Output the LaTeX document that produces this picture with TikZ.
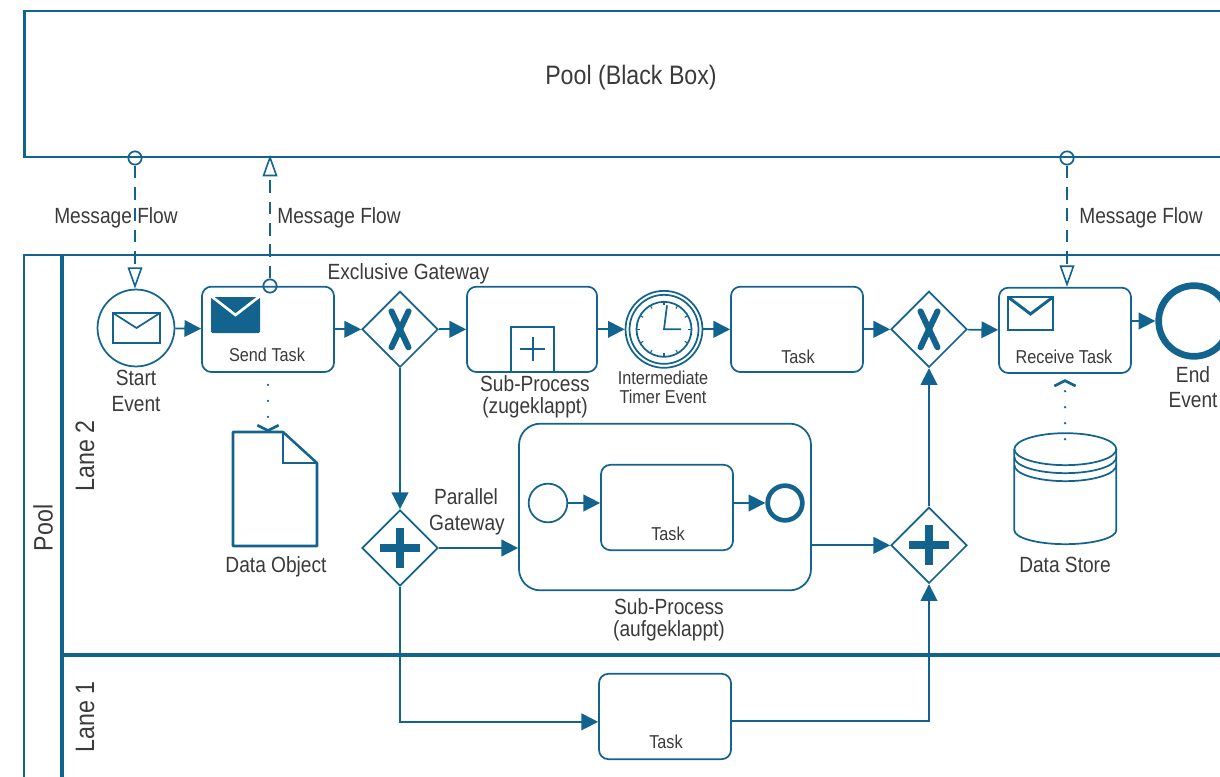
\documentclass[tikz,border=0pt]{standalone}
\usepackage{fontspec}
\setmainfont[FakeStretch=0.87]{Liberation Sans}
\usetikzlibrary{arrows.meta,shapes.geometric}

\definecolor{bpmnblue}{HTML}{13638F}
\definecolor{bpmntext}{HTML}{3A3A3A}

\begin{document}
\begin{tikzpicture}[x=.75pt,y=-.75pt]
      \tikzset{
        node distance=99pt,
        line width=1.3pt,
        bpmnline/.style={draw=bpmnblue,line width=1.3pt},
        poolline/.style={draw=bpmnblue,line width=2pt},
        lbl/.style={text=bpmntext,font=\fontsize{16.5}{16.5}\selectfont,inner sep=0pt},
        biglbl/.style={text=bpmntext,font=\fontsize{20}{20}\selectfont,inner sep=0pt},
        smalllbl/.style={text=bpmntext,font=\fontsize{14}{14}\selectfont,inner sep=0pt},
        task/.style={bpmnline,rectangle,rounded corners=7pt,minimum width=99pt,minimum height=64pt,inner sep=0pt},
        gateway/.style={bpmnline,diamond,aspect=1,minimum width=57pt,minimum height=57pt,inner sep=0pt},
        eventnode/.style={bpmnline,circle,inner sep=0pt,minimum size=57.7pt},
        msgdot/.style={bpmnline,circle,inner sep=0pt,minimum size=10pt},
        databox/.style={inner sep=0pt,outer sep=0pt},
        flow/.style={bpmnblue,line width=1.3pt,-{Triangle[length=12.5pt,width=12.5pt]}},
        msgflow/.style={bpmnblue,line width=1.3pt,dash pattern=on 9.5pt off 6.5pt,-{Triangle[open,fill=white,length=16pt,width=11pt,line width=1.2pt]}},
        assoc/.style={bpmnblue,line width=2pt,line cap=round,dash pattern=on 0pt off 12pt,-{Straight Barb[length=4pt,width=16pt,line width=2pt]}},
        xmark/.style={bpmnblue,line width=4.5pt,line cap=round},
        plusmark/.style={bpmnblue,line width=6pt}
      }
      \useasboundingbox (0,0) rectangle (1220,777);

      % pools and lanes
      \node[poolline,rectangle,minimum width=910pt,minimum height=109.5pt,inner sep=0pt] (blackbox) at (631,84) {};
      \node[biglbl] (blackboxlabel) at (631,78) {Pool (Black Box)};
      \draw[poolline] (1230,255) -- (24,255) -- (24,790);
      \draw[poolline,line width=2.5pt] (62,255) -- (62,790);
      \draw[poolline,line width=2.5pt] (62,655) -- (1230,655);
      \node[biglbl,rotate=90] (poollabel) at (43,528) {Pool};
      \node[biglbl,rotate=90] (lane2) at (85,456) {Lane 2};
      \node[biglbl,rotate=90] (lane1) at (85,717) {Lane 1};

      % top row
      \node[eventnode] (start) at (136,328) {};
      \node[task,right of=start,yshift=-1pt] (sendtask) {};
      \node[gateway,right of=sendtask] (xor1) {};
      \node[task,minimum width=97.5pt,right of=xor1] (subclosed) {};
      \node[eventnode,right of=subclosed] (timer) {};
      \node[task,right of=timer,xshift=.75pt] (task1) {};
      \node[gateway,right of=task1] (xor2) {};
      \node[task,right of=xor2,xshift=3pt,yshift=-.75pt] (receivetask) {};
      \node[eventnode,line width=5pt,minimum size=53pt,right of=receivetask,yshift=7pt,xshift=-2.25pt] (end) {};

      % second row
      \node[gateway,below of=xor1,node distance=164pt] (and1) {};
      \node[gateway,below of=xor2,node distance=162pt] (and2) {};
      \node[task,rounded corners=16pt,minimum width=219pt,minimum height=125pt] (subopen) at (665,507) {};
      \node[task] (task2) at (667,507.5) {};
      \node[eventnode,minimum size=29pt] (innerstart) at (548,503) {};
      \node[eventnode,line width=3.5pt,minimum size=26pt] (innerend) at (785,503) {};
      \node[task] (task3) at (665,716.5) {};

      % data
      \node[databox,minimum width=63pt,minimum height=85.5pt] (dataobject) at (275,489) {};
      \node[databox,minimum width=76pt,minimum height=83pt] (datastore) at (1065,488.5) {};

      \draw[bpmnline,line width=1.9pt,line join=round] (dataobject.south west) -- (dataobject.north west) -- ++(50,0) -- ++(34,31) -- (dataobject.south east) -- cycle;
      \draw[bpmnline,line width=1.9pt] ([xshift=37.5pt]dataobject.north west) -- ++(0,31) -- ++(34,0);

      \draw[bpmnline] (datastore.north west) ++(0,16) arc[start angle=180,end angle=-180,x radius=51,y radius=16];
      \draw[bpmnline] (datastore.north west) ++(0,24) arc[start angle=180,end angle=0,x radius=51,y radius=16];
      \draw[bpmnline] (datastore.north west) ++(0,32) arc[start angle=180,end angle=0,x radius=51,y radius=16];
      \draw[bpmnline] (datastore.north west) ++(0,16) -- ++(0,81) arc[start angle=180,end angle=0,x radius=51,y radius=14] -- ++(0,-81);

      % event and task markers
      \draw[bpmnline] (113,313) rectangle (160,343);
      \draw[bpmnline] (113,313) -- (136.5,328) -- (160,313);
      \fill[bpmnblue,rounded corners=1pt] (211,297) rectangle (260,333);
      \draw[white,line width=2pt] (211,296) -- (235.5,315) -- (260,296);
      \draw[bpmnline,line width=2.2pt] (1008,297) rectangle (1053,330);
      \draw[bpmnline,line width=2.2pt] (1008,297) -- (1030.5,314) -- (1053,297);

      \foreach \g in {xor1,xor2} {
        \draw[xmark] ([shift={(-8.5,-18)}]\g.center) -- ([shift={(8.5,18)}]\g.center);
        \draw[xmark] ([shift={(8.5,-18)}]\g.center) -- ([shift={(-8.5,18)}]\g.center);
      }
      \foreach \g in {and1,and2} {
        \draw[plusmark] ([shift={(-20,0)}]\g.center) -- ([shift={(20,0)}]\g.center);
        \draw[plusmark] ([shift={(0,-20)}]\g.center) -- ([shift={(0,20)}]\g.center);
      }

      \draw[bpmnline,line width=2pt] (511,371) -- (511,327) -- (554,327) -- (554,371);
      \draw[bpmnline,line width=1.5pt] (520,349) -- (545,349);
      \draw[bpmnline,line width=1.5pt] (532.5,337) -- (532.5,361);

      \draw[bpmnline] (timer.center) circle[radius=34.5];
      \draw[bpmnline] (timer.center) circle[radius=27.5];
      \foreach \a in {0,30,...,330} {
        \draw[bpmnline,line width=.8pt] ([shift={(\a:27)}]timer.center) -- ([shift={(\a:24)}]timer.center);
      }
      \draw[bpmnline] ([shift={(3,-24)}]timer.center) -- (timer.center) -- ([shift={(17,0)}]timer.center);

      % labels
      \node[lbl] (startlabel1) at (136,378) {Start};
      \node[lbl] (startlabel2) at (136,404) {Event};
      \node[smalllbl] (sendlabel) at (267,355) {Send Task};
      \node[lbl] (xorlabel) at (408.5,274) {Exclusive Gateway};
      \node[lbl] (subclosedlabel1) at (535,384) {Sub-Process};
      \node[lbl] (subclosedlabel2) at (535,408) {(zugeklappt)};
      \node[smalllbl] (timerlabel1) at (663,378) {Intermediate};
      \node[smalllbl] (timerlabel2) at (663,397) {Timer Event};
      \node[smalllbl] (tasklabel1) at (798,357) {Task};
      \node[smalllbl] (receivelabel) at (1064,357) {Receive Task};
      \node[lbl] (endlabel1) at (1193,375) {End};
      \node[lbl] (endlabel2) at (1193,400) {Event};
      \node[lbl] (objectlabel) at (276,567) {Data Object};
      \node[lbl] (storelabel) at (1065,565) {Data Store};
      \node[lbl] (parallellabel1) at (466,497) {Parallel};
      \node[lbl] (parallellabel2) at (467,525) {Gateway};
      \node[smalllbl] (tasklabel2) at (668,534) {Task};
      \node[lbl] (subopenlabel1) at (669,607) {Sub-Process};
      \node[lbl] (subopenlabel2) at (669,631) {(aufgeklappt)};
      \node[smalllbl] (tasklabel3) at (666,742) {Task};
      \node[lbl] (msglabel1) at (116,218) {Message Flow};
      \node[lbl] (msglabel2) at (339,218) {Message Flow};
      \node[lbl] (msglabel3) at (1141,218) {Message Flow};

      % sequence flows
      \draw[flow] (start) -- (sendtask);
      \draw[flow] (sendtask) -- (xor1);
      \draw[flow] (xor1) -- (subclosed);
      \draw[flow] (subclosed) -- (timer);
      \draw[flow] (timer) -- (task1);
      \draw[flow] (task1) -- (xor2);
      \draw[flow] (xor2) -- (receivetask);
      \draw[flow] (receivetask.east |- end) -- (end);
      \draw[flow] (xor1) -- (and1);
      \draw[flow] (and1) -- (subopen.west |- and1);
      \draw[flow] (subopen.east |- and2) -- (and2);
      \draw[flow] (and2) -- (xor2);
      \draw[flow] (innerstart) -- (task2.west |- innerstart);
      \draw[flow] (task2.east |- innerend) -- (innerend);
      \draw[flow] (and1) |- ([yshift=-4pt]task3.west);
      \draw[flow] ([yshift=-3.5pt]task3.east) -| (and2);

      % message flows
      \node[msgdot] (dot1) at (135,158) {};
      \node[msgdot] (dot2) at (270,286) {};
      \node[msgdot] (dot3) at (1067,158) {};
      \draw[msgflow] (dot1) -- (dot1 |- start.north);
      \draw[msgflow] (dot2) -- ([yshift=2.5pt]dot2 |- blackbox.south);
      \draw[msgflow] (dot3) -- (dot3 |- receivetask.north);

      % associations
      \draw[assoc] ([yshift=-9pt]sendtask.south) -- (sendtask.south |- dataobject.north);
      \draw[assoc] ([yshift=-4.5pt]datastore.north) -- ([yshift=-4pt]receivetask.south);
    \end{tikzpicture}
\end{document}
